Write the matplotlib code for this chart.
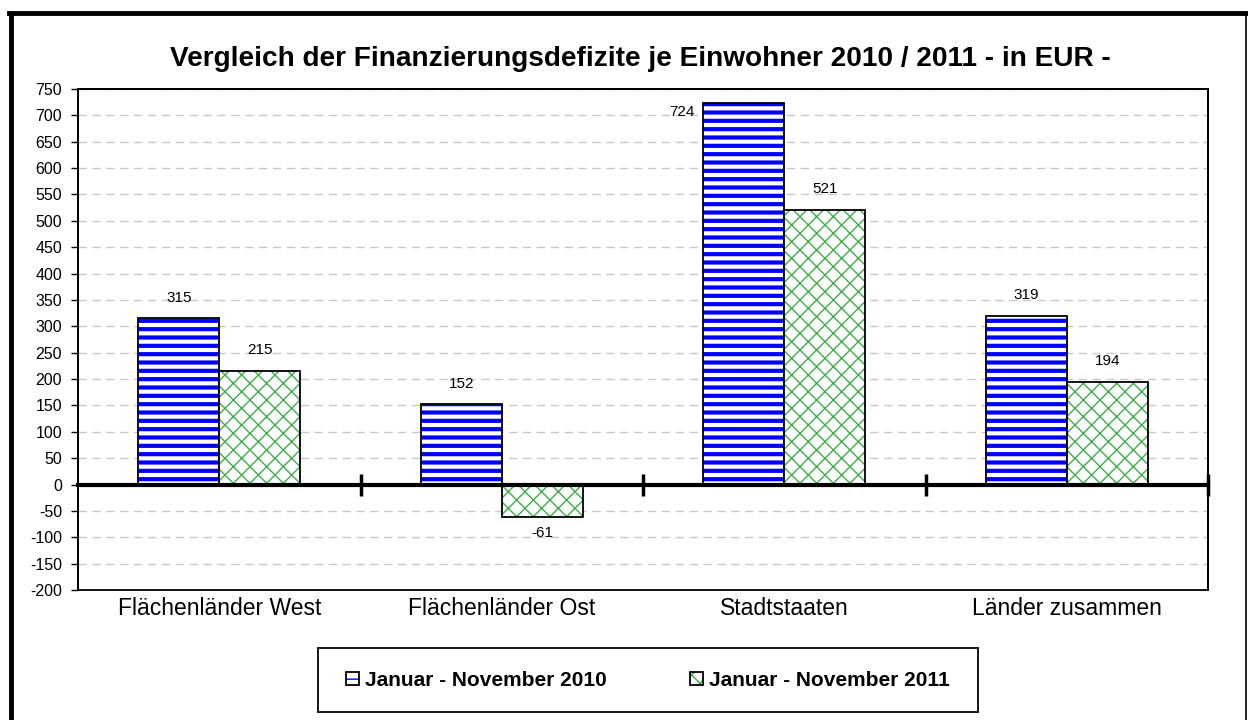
import matplotlib
matplotlib.use("Agg")
import matplotlib.pyplot as plt
import numpy as np
from matplotlib.colors import to_rgba
from matplotlib.patches import Rectangle
from matplotlib.lines import Line2D

plt.rcParams['font.family'] = ['Liberation Sans', 'DejaVu Sans']

title = "Vergleich der Finanzierungsdefizite je Einwohner 2010 / 2011 - in EUR -"
categories = ["Flächenländer West", "Flächenländer Ost", "Stadtstaaten", "Länder zusammen"]
series_names = ["Januar - November 2010", "Januar - November 2011"]
values_2010 = [315, 152, 724, 319]
values_2011 = [215, -61, 521, 194]
yticks = list(range(-200, 751, 50))

BLUE = "#0000ff"
GREEN = "#3fae49"

fig = plt.figure(figsize=(12.48, 7.2), dpi=100)
ax = fig.add_axes([78/1248, 1-590/720, (1208-78)/1248, (590-89)/720])

x = np.arange(len(categories))
w = 0.287

def hatched_bars(xpos, vals, hatch, color, hlw):
    with plt.rc_context({'hatch.linewidth': hlw}):
        bars = ax.bar(xpos, vals, w, facecolor='white', edgecolor='black',
                      linewidth=1.3, hatch=hatch, zorder=3)
    for p in bars:
        p._hatch_color = to_rgba(color)
        if hasattr(p, 'set_hatch_linewidth'):
            p.set_hatch_linewidth(hlw)
    return bars

b1 = hatched_bars(x - w/2, values_2010, '--', BLUE, 3.0)
b2 = hatched_bars(x + w/2, values_2011, 'xx', GREEN, 1.0)

ax.set_xlim(-0.5, len(categories) - 0.5)
ax.set_ylim(yticks[0], yticks[-1])
ax.set_yticks(yticks)
ax.set_yticklabels([str(v) for v in yticks], fontsize=11.5)
ax.tick_params(axis='y', direction='out', length=5, width=1, pad=6.5)

ax.yaxis.grid(True, color='#c8c8c8', linestyle=(0, (6, 4)), linewidth=1)
ax.set_axisbelow(True)

# zero axis with category boundary ticks
ax.spines['bottom'].set_position(('data', 0))
ax.spines['bottom'].set_linewidth(3)
ax.spines['bottom'].set_zorder(5)
ax.set_xticks(np.arange(len(categories)) + 0.5)
ax.set_xticklabels([])
ax.tick_params(axis='x', direction='inout', length=16, width=2.5)
for s in ['top', 'right']:
    ax.spines[s].set_linewidth(1.3)
ax.spines['left'].set_linewidth(1.3)
ax.add_patch(Rectangle((0, 0), 1, 1, transform=ax.transAxes, fill=False,
                       edgecolor='black', linewidth=1.3, clip_on=False, zorder=6))

for i, c in enumerate(categories):
    ax.text(i, -0.036, c, transform=ax.get_xaxis_transform(), ha='center',
            va='center', fontsize=16.5)

# data labels
for bars, vals in ((b1, values_2010), (b2, values_2011)):
    for p, v in zip(bars, vals):
        cx = p.get_x() + p.get_width()/2
        if v > 700:
            ax.annotate(str(v), (p.get_x(), v), xytext=(-6, -7), textcoords='offset points',
                        ha='right', va='center', fontsize=11)
        elif v >= 0:
            ax.annotate(str(v), (cx, v), xytext=(0, 15), textcoords='offset points',
                        ha='center', va='center', fontsize=11)
        else:
            ax.annotate(str(v), (cx, v), xytext=(0, -12), textcoords='offset points',
                        ha='center', va='center', fontsize=11)

fig.text(0.513, 1-59/720, title, ha='center', va='center', fontsize=20.2, fontweight='bold')

# legend frame
fig.add_artist(Rectangle((318/1248, 1-712/720), (978-318)/1248, (712-648)/720,
                         transform=fig.transFigure, fill=False, edgecolor='black',
                         linewidth=1.3))
leg = fig.legend([b1, b2], series_names, loc='center',
                 bbox_to_anchor=(648/1248, 1-680/720), ncol=2, frameon=False,
                 prop={'weight': 'bold', 'size': 15}, handlelength=0.6, handleheight=0.6,
                 handletextpad=0.3, columnspacing=4.0)

# outer frame
fig.add_artist(Line2D([11/1248, 11/1248], [0, 1-13/720], transform=fig.transFigure, color='black', linewidth=3.5))
fig.add_artist(Line2D([9/1248, 1246/1248], [1-13/720, 1-13/720], transform=fig.transFigure, color='black', linewidth=3.5))
fig.add_artist(Line2D([1246/1248, 1246/1248], [0, 1-13/720], transform=fig.transFigure, color='black', linewidth=1.2))

fig.savefig("out.png", dpi=100)
